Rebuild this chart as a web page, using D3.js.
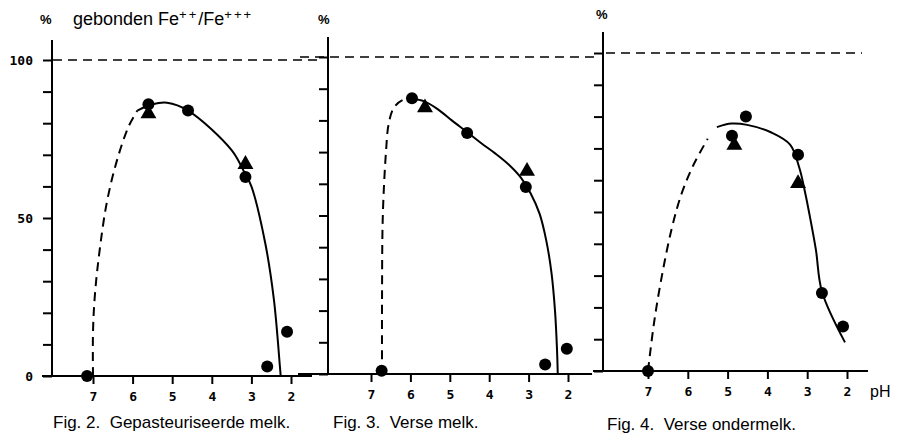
<!DOCTYPE html>
<html lang="nl">
<head>
<meta charset="UTF-8" />
<title>Gebonden Fe++/Fe+++</title>
<script src="https://d3js.org/d3.v7.min.js"></script>
<style>
  body { margin: 0; background: #fff; }
  svg { font-family: "Liberation Sans", Arial, sans-serif; }
  .axis line, .axis path { stroke: #000; stroke-width: 2; }
  .axis text { font-size: 13px; font-weight: bold; fill: #000; font-family: "DejaVu Sans Mono", monospace; }
</style>
</head>
<body>
<svg id="chart" width="903" height="437"></svg>
<script>
// pH ticks and % ticks
const phTicks = [7, 6, 5, 4, 3, 2];
const pctTicks = [0, 10, 20, 30, 40, 50, 60, 70, 80, 90, 100];
const pctLabels = [0, 50, 100];
const captions = ["Fig. 2.  Gepasteuriseerde melk.", "Fig. 3.  Verse melk.", "Fig. 4.  Verse ondermelk."];

// [pH, % gebonden]
const circles1 = [[7.15, 0], [5.6, 86], [4.6, 84], [3.15, 63], [2.6, 3], [2.1, 14]];
const triangles1 = [[5.6, 83], [3.15, 67]];
const dashed1 = [[7.0, 0], [7.0, 14], [6.95, 26], [6.83, 40], [6.65, 55], [6.4, 68], [6.1, 79], [5.88, 84]];
const solid1 = [[5.88, 84], [5.5, 86], [5.13, 86.5], [4.6, 84], [3.5, 71.5], [3.18, 64.5], [3.0, 60], [2.65, 42], [2.43, 24], [2.28, 3], [2.26, 0]];

const circles2 = [[6.73, 1], [5.96, 87], [4.56, 76], [3.07, 59], [2.58, 3], [2.03, 8]];
const triangles2 = [[5.63, 84], [3.04, 64]];
const dashed2 = [[6.72, 0], [6.72, 24], [6.70, 50], [6.62, 70], [6.55, 79], [6.42, 84], [6.2, 86.4], [5.96, 86.8]];
const solid2 = [[5.96, 86.8], [5.65, 86], [5.3, 83.5], [4.95, 80], [4.56, 76.3], [4.2, 72.8], [3.85, 69.6], [3.5, 66], [3.2, 62], [2.95, 57], [2.72, 50.5], [2.55, 42], [2.42, 32], [2.33, 20], [2.28, 8], [2.26, 0]];

const circles3 = [[7.0, 0], [4.89, 74], [4.54, 80], [3.23, 68], [2.63, 24.5], [2.1, 14]];
const triangles3 = [[4.83, 71], [3.23, 59]];
const dashed3 = [[7.0, 0], [6.85, 15], [6.65, 30], [6.4, 45], [6.15, 56], [5.85, 65], [5.5, 73]];
const solid3 = [[5.27, 76.7], [4.9, 77.8], [4.51, 77.4], [3.9, 75], [3.43, 71.2], [3.2, 64], [3.05, 56], [2.93, 48.4], [2.78, 38], [2.63, 25], [2.05, 9]];

const panels = [
  { x: [93, 291], y: [376, 60], axisX: 52, top: 40, base: [42, 312], ref: [53, 318], labels: true,
    circles: circles1, triangles: triangles1, dashed: dashed1, solid: solid1, caption: captions[0], capX: 53, capY: 428, pctX: 40, pctY: 24 },
  { x: [371, 568], y: [374, 57], axisX: 328, top: 37, base: [298, 592], ref: [300, 600], labels: false,
    circles: circles2, triangles: triangles2, dashed: dashed2, solid: solid2, caption: captions[1], capX: 333, capY: 428, pctX: 318, pctY: 24 },
  { x: [648, 847], y: [371, 53], axisX: 603, top: 32, base: [593, 868], ref: [606, 862], labels: false,
    circles: circles3, triangles: triangles3, dashed: dashed3, solid: solid3, caption: captions[2], capX: 607, capY: 430, pctX: 596, pctY: 19 }
];

const svg = d3.select("svg#chart");

panels.forEach((p, i) => {
  const xScale = d3.scaleLinear().domain([7, 2]).range(p.x);
  const yScale = d3.scaleLinear().domain([0, 100]).range(p.y);
  const g = svg.append("g").attr("class", "panel");

  // baseline and y axis line
  g.append("line").attr("x1", p.base[0]).attr("x2", p.base[1])
    .attr("y1", yScale(0)).attr("y2", yScale(0))
    .attr("stroke", "#000").attr("stroke-width", 2);
  g.append("line").attr("x1", p.axisX).attr("x2", p.axisX)
    .attr("y1", p.top).attr("y2", yScale(0))
    .attr("stroke", "#000").attr("stroke-width", 2);

  // 100% reference
  g.append("line").attr("x1", p.ref[0]).attr("x2", p.ref[1])
    .attr("y1", yScale(100)).attr("y2", yScale(100))
    .attr("stroke", "#000").attr("stroke-width", 1.6)
    .style("stroke-dasharray", "9 6");

  const bottomAxis = d3.axisBottom(xScale).tickValues(phTicks).tickSize(8).tickSizeOuter(0).tickPadding(8)
    .tickFormat(d3.format("d"));
  g.append("g").attr("class", "x axis")
    .attr("transform", `translate(0,${yScale(0)})`)
    .call(bottomAxis)
    .call(a => a.select(".domain").remove());

  const leftAxis = d3.axisLeft(yScale).tickValues(pctTicks).tickSize(9).tickSizeOuter(0).tickPadding(10)
    .tickFormat(d => (p.labels && pctLabels.includes(d)) ? d : "");
  g.append("g").attr("class", "y axis")
    .attr("transform", `translate(${p.axisX},0)`)
    .call(leftAxis)
    .call(a => a.select(".domain").remove());

  const line = d3.line()
    .x(d => xScale(d[0]))
    .y(d => yScale(d[1]))
    .curve(d3.curveCatmullRom.alpha(0.5));

  g.append("path").datum(p.dashed)
    .attr("fill", "none").attr("stroke", "#000").attr("stroke-width", 2)
    .style("stroke-dasharray", "9 6")
    .attr("d", line);
  g.append("path").datum(p.solid)
    .attr("fill", "none").attr("stroke", "#000").attr("stroke-width", 2)
    .attr("d", line);

  g.selectAll("path.tri").data(p.triangles).join("path")
    .attr("class", "tri")
    .attr("transform", d => `translate(${xScale(d[0])},${yScale(d[1])})`)
    .attr("d", d3.symbol(d3.symbolTriangle, 110))
    .attr("fill", "#000");
  g.selectAll("circle.pt").data(p.circles).join("circle")
    .attr("class", "pt")
    .attr("cx", d => xScale(d[0]))
    .attr("cy", d => yScale(d[1]))
    .attr("r", 6)
    .attr("fill", "#000");

  g.append("text").attr("x", p.pctX).attr("y", p.pctY)
    .attr("font-size", 13).attr("font-weight", "bold").text("%");

  g.append("text").attr("x", p.capX).attr("y", p.capY)
    .attr("font-size", 17).style("white-space", "pre").text(p.caption);
});

// y axis title on first panel
const title = svg.append("text").attr("x", 73).attr("y", 25).attr("font-size", 18).style("white-space", "pre");
title.append("tspan").text("gebonden Fe");
title.append("tspan").attr("font-size", 13).attr("dy", -6).attr("letter-spacing", 2).text("++");
title.append("tspan").attr("dy", 6).text("/Fe");
title.append("tspan").attr("font-size", 13).attr("dy", -6).attr("letter-spacing", 2).text("+++");

svg.append("text").attr("x", 870).attr("y", 397).attr("font-size", 16).text("pH");
</script>
</body>
</html>
